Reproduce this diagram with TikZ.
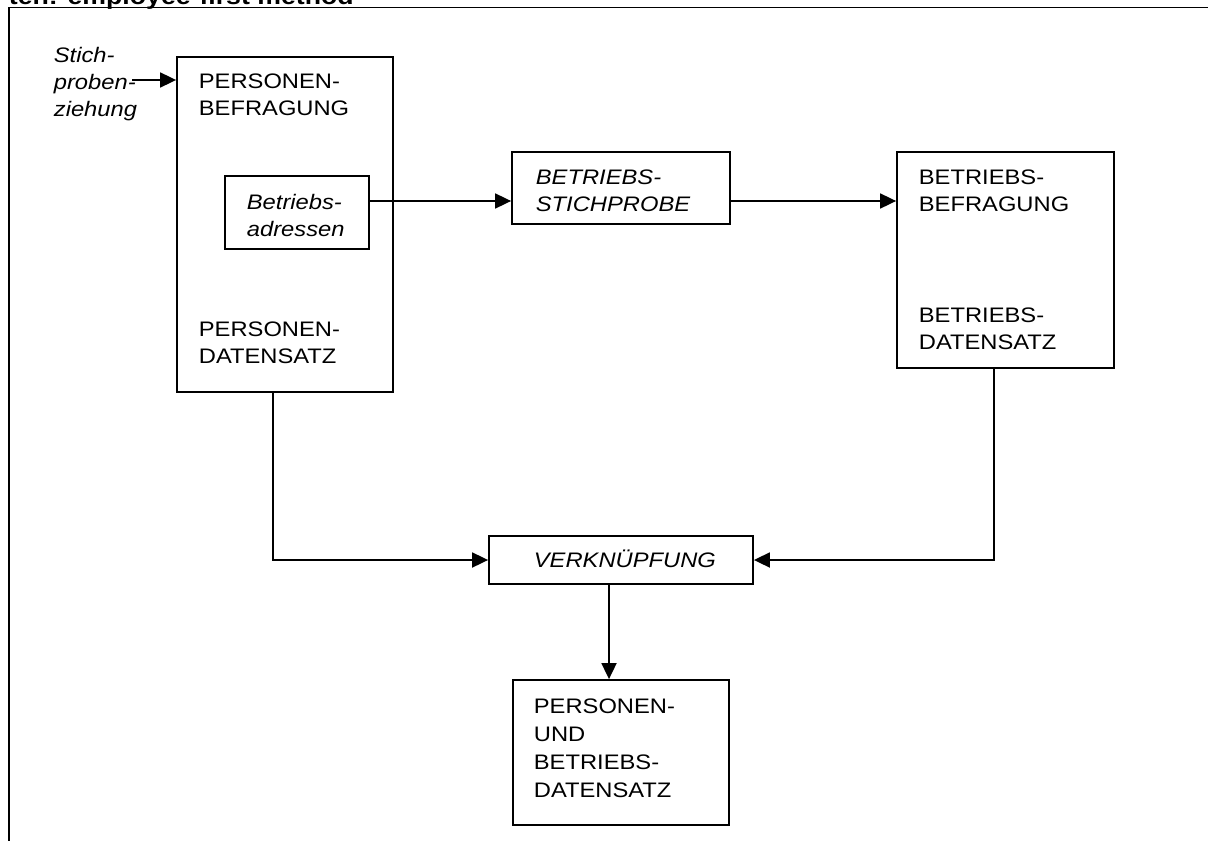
\documentclass[tikz,border=0pt]{standalone}
\usepackage{fontspec}
\setmainfont{Liberation Sans}[FakeStretch=1.13]
\usetikzlibrary{arrows.meta}

\begin{document}
\begin{tikzpicture}[x=0.5pt,y=-0.5pt,line width=0.9pt,>={Triangle[length=8pt,width=7.5pt]},
  kasten/.style={draw,inner sep=0pt},
  txt/.style={anchor=west,inner sep=0pt,align=left,font=\fontsize{10.5}{13.5}\selectfont},
  kursiv/.style={txt,font=\fontsize{10.5}{13.5}\selectfont\itshape}]
\useasboundingbox (0,0) rectangle (1208,840);
\node [anchor=base west,inner sep=0pt,font=\fontsize{11.8}{14}\selectfont\bfseries] (titel) at (8,5) {ten: employee-first method};
\draw (9,850) -- (9,7.5) -- (1220,7.5);

\node [kasten,minimum width=108pt,minimum height=167.5pt] (pers) at (285,224.5) {};
\node [kasten,minimum width=72pt,minimum height=36.5pt] (adr) at (297,212.5) {};
\node [kasten,minimum width=109pt,minimum height=36pt] (stp) at (621,188) {};
\node [kasten,minimum width=108.5pt,minimum height=108pt] (befr) at (1005.5,260) {};
\node [kasten,minimum width=132pt,minimum height=24pt] (verk) at (621,560) {};
\node [kasten,minimum width=108pt,minimum height=72.5pt] (erg) at (621,752.5) {};

\node [kursiv] (stich) at (53,84) {Stich-\\proben-\\ziehung};
\node [txt] (pers1) at (198,95) {PERSONEN-\\BEFRAGUNG};
\node [kursiv] (adr1) at (246,215) {Betriebs-\\adressen};
\node [txt] (pers2) at (198,343) {PERSONEN-\\DATENSATZ};
\node [kursiv] (stp1) at (535,191) {BETRIEBS-\\STICHPROBE};
\node [txt] (befr1) at (918,190.5) {BETRIEBS-\\BEFRAGUNG};
\node [txt] (befr2) at (918,328.5) {BETRIEBS-\\DATENSATZ};
\node [kursiv,anchor=base west] (verk1) at (533,567.5) {VERKNÜPFUNG};
\node [txt,font=\fontsize{10.5}{14}\selectfont] (erg1) at (533,748) {PERSONEN-\\UND\\BETRIEBS-\\DATENSATZ};

\coordinate (ziehung) at (132,80);
\coordinate (hoehe) at (0,201);
\draw [->] (ziehung) -- (pers.west |- ziehung);
\draw [->] (adr.east |- hoehe) -- (stp.west |- hoehe);
\draw [->] (stp.east |- hoehe) -- (befr.west |- hoehe);
\draw [->] ([xshift=-6pt]pers.south) |- (verk.west);
\draw [->] ([xshift=-5.75pt]befr.south) |- (verk.east);
%\draw [->] (verk.south) -- (erg.north);
\draw [->] ([xshift=-6pt]verk.south) -- ([xshift=-6pt]erg.north);
\end{tikzpicture}
\end{document}
